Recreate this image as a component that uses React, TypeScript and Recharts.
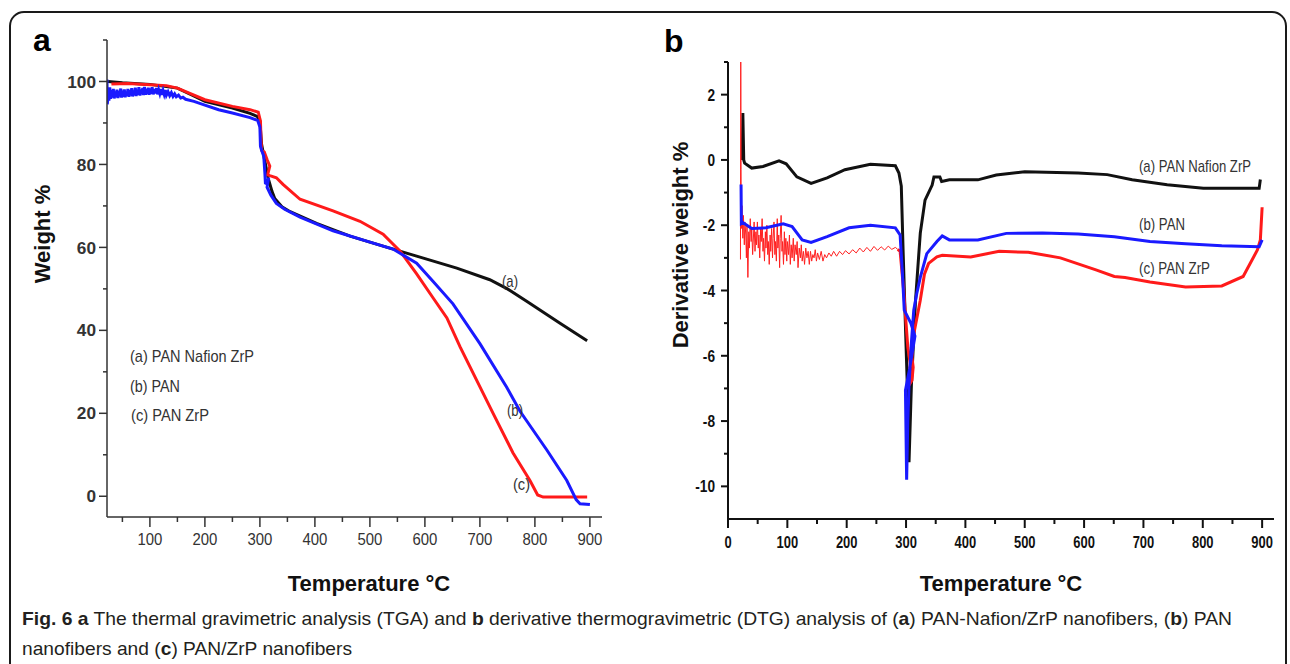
import React from 'react';
import { LineChart, Line, XAxis, YAxis } from 'recharts';

const FONT = "'Liberation Sans', Arial, sans-serif";

// panel a: TGA, [temperature °C, weight %]
const tgaNafionZrP = [
  [24, 100], [50, 99.7], [100, 99.3], [150, 98.4], [175, 96.8], [200, 95.2], [250, 93.6],
  [282, 92.3], [295, 91.6], [300, 90.4], [303, 84.9], [309, 80.8], [315, 76.7], [322, 73.5],
  [327, 71.8], [340, 69.8], [355, 68.6], [403, 65.8], [464, 62.7], [524, 60.3], [585, 57.9],
  [658, 55.0], [718, 52.2], [750, 50.0], [785, 47.0], [845, 41.8], [895, 37.5],
];
const tgaPAN = [
  [22, 100.5], [22.5, 94.5], [24, 96.5], [25.5, 95.4], [27, 98.6], [28.5, 95.8], [30, 97.9],
  [32, 96.1], [33.5, 98.2], [35, 95.9], [37, 97.6], [38.5, 96.2], [40, 98.0], [42, 96.0],
  [43.5, 97.7], [45, 96.4], [47, 98.3], [48.5, 96.1], [50, 97.8], [52, 96.3], [53.5, 98.1],
  [55, 96.2], [57, 97.5], [58.5, 96.5], [60, 98.2], [62, 96.3], [63.5, 97.9], [65, 96.6],
  [67, 98.4], [68.5, 96.4], [70, 97.7], [72, 96.7], [73.5, 98.5], [75, 96.5], [77, 98.0],
  [78.5, 96.8], [80, 98.6], [82, 96.6], [83.5, 98.1], [85, 96.9], [87, 98.4], [88.5, 96.7],
  [90, 98.7], [92, 96.8], [93.5, 98.2], [95, 97.0], [97, 98.5], [98.5, 96.8], [100, 98.3],
  [102, 97.0], [104, 98.6], [106, 96.9], [108, 98.2], [110, 97.1], [112, 98.4], [114, 96.9],
  [116, 98.0], [118, 97.1], [120, 98.2], [122, 96.8], [124, 97.8], [126, 96.9], [128, 97.9],
  [130, 96.7], [133, 97.5], [136, 96.6], [139, 97.3], [142, 96.4], [145, 97.0], [148, 96.3],
  [152, 96.7], [156, 96.0], [160, 96.2], [165, 95.7], [180, 95.2], [200, 94.3], [225, 93.2],
  [250, 92.4], [282, 91.3], [296, 90.6], [300, 89.0], [301, 84.4], [303, 83.5], [307, 82.0],
  [309, 78.0], [310, 75.5], [313, 75.3], [316, 76.8], [313, 74.5], [320, 72.6], [330, 70.6],
  [345, 69.2], [373, 67.3], [433, 64.0], [494, 61.5], [542, 59.6], [585, 56.2], [615, 51.8],
  [651, 46.4], [700, 36.8], [749, 26.2], [773, 20.5], [822, 11.1], [858, 3.8], [875, -0.8],
  [882, -1.8], [900, -2.0],
];
const tgaPANZrP = [
  [30, 99.4], [60, 99.5], [100, 99.2], [130, 99.0], [150, 98.4], [200, 95.6], [250, 94.0],
  [282, 93.2], [297, 92.6], [301, 90.5], [302, 86.0], [303, 83.4], [308, 83.0], [313, 81.2],
  [318, 79.6], [314, 77.5], [318, 77.3], [330, 76.8], [342, 75.2], [373, 71.6], [433, 68.8],
  [482, 66.3], [524, 63.2], [555, 59.1], [585, 53.6], [615, 47.8], [640, 43.0], [664, 36.0],
  [694, 28.0], [724, 20.0], [760, 10.5], [791, 3.8], [805, 0.3], [815, -0.2], [895, -0.2],
];

// panel b: DTG, [temperature °C, derivative weight %]
const dtgNafionZrP = [
  [24, 0], [25, 1.44], [26.5, 0], [28, -0.1], [40, -0.25], [59, -0.2], [86, -0.03], [98, -0.12],
  [116, -0.52], [140, -0.72], [167, -0.55], [197, -0.3], [240, -0.13], [282, -0.18], [288, -0.4],
  [292, -0.8], [295, -2.76], [302, -6.84], [305, -9.26], [309, -6.9], [316, -4.3], [324, -2.24],
  [332, -1.23], [344, -0.77], [347, -0.52], [357, -0.52], [360, -0.66], [373, -0.61], [421, -0.61],
  [452, -0.46], [500, -0.36], [590, -0.4], [639, -0.45], [681, -0.61], [740, -0.76], [801, -0.87],
  [895, -0.87], [897, -0.6],
];
const dtgPAN = [
  [22, -0.75], [22.5, -1.95], [25, -1.92], [40, -2.1], [64, -2.08], [93, -1.96], [108, -2.04],
  [125, -2.45], [140, -2.53], [167, -2.35], [204, -2.08], [240, -2.0], [282, -2.08], [290, -2.3],
  [294, -3.5], [297, -4.6], [308, -5.0], [315, -5.4], [306, -6.4], [299, -7.06], [301, -9.8],
  [303, -8.0], [305, -6.9], [309, -5.6], [313, -4.6], [318, -4.1], [324, -3.6], [335, -2.87],
  [352, -2.5], [361, -2.33], [373, -2.45], [421, -2.45], [469, -2.25], [530, -2.24], [590, -2.27],
  [651, -2.35], [711, -2.5], [771, -2.57], [832, -2.63], [895, -2.66], [900, -2.45],
];
const dtgPANZrPNoisy = [
  [21, -3.05], [21.5, 3.0], [22, -0.3], [22.5, -2.1], [23.5, -1.4], [25, -2.4], [26, -1.7],
  [27.5, -2.6], [28.5, -1.9], [30, -2.3], [31, -3.0], [32, -2.0], [33.5, -3.6], [35, -2.2],
  [36, -2.7], [37.5, -1.8], [39, -2.5], [40, -2.1], [41.5, -2.9], [43, -2.3], [44, -1.9],
  [45.5, -2.8], [47, -2.2], [48, -2.6], [49.5, -1.9], [51, -2.7], [52, -2.3], [53.5, -3.0],
  [55, -2.1], [56, -2.5], [57.5, -1.8], [59, -2.8], [60, -2.4], [61.5, -3.1], [63, -2.2],
  [64, -2.7], [65.5, -2.0], [67, -2.9], [68, -2.5], [69.5, -3.2], [71, -2.3], [72, -2.8],
  [73.5, -2.1], [75, -3.0], [76, -2.4], [77.5, -1.9], [79, -2.9], [80, -2.5], [81.5, -3.1],
  [83, -1.8], [84, -2.7], [85.5, -2.3], [87, -3.3], [88, -2.4], [89.5, -1.7], [91, -2.8],
  [92, -2.5], [93.5, -3.2], [95, -2.2], [96, -2.9], [97.5, -2.4], [99, -3.1], [100, -2.5],
  [102, -2.9], [103.5, -2.3], [105, -3.2], [106.5, -2.6], [108, -3.0], [110, -2.4], [111.5, -3.1],
  [113, -2.6], [115, -2.9], [116.5, -2.5], [118, -3.3], [120, -2.7], [122, -3.0], [123.5, -2.6],
  [125, -3.1], [127, -2.8], [129, -3.2], [131, -2.7], [133, -3.0], [135, -2.8], [137, -3.2],
  [139, -2.8], [141, -3.1], [143, -2.9], [145, -3.0], [147, -2.75], [149, -3.1], [151, -2.85],
  [154, -3.05], [157, -2.8], [160, -3.1], [163, -2.9], [166, -3.0], [170, -2.85], [174, -2.95],
  [178, -2.8], [183, -2.95], [188, -2.8], [193, -2.9], [198, -2.78], [204, -2.88], [210, -2.75],
  [216, -2.85], [222, -2.7], [228, -2.82], [234, -2.68], [240, -2.8], [246, -2.65], [252, -2.77],
  [258, -2.66], [264, -2.76], [270, -2.64], [276, -2.74], [282, -2.68], [286, -2.74],
];
const dtgPANZrP = [
  [286, -2.74], [290, -2.8], [296, -4.0], [300, -5.0], [303, -5.74], [307, -6.24], [305, -6.9],
  [310, -6.75], [312, -6.35], [310, -6.04], [312, -5.43], [324, -4.3], [331, -3.5], [338, -3.17],
  [352, -2.97], [361, -2.92], [409, -2.97], [457, -2.8], [506, -2.83], [560, -3.0], [620, -3.37],
  [651, -3.57], [669, -3.6], [711, -3.74], [771, -3.89], [832, -3.86], [868, -3.57], [892, -2.76],
  [897, -2.45], [900, -1.45],
];

const tgaXMajor = [100, 200, 300, 400, 500, 600, 700, 800, 900];
const tgaXMinor = [50, 150, 250, 350, 450, 550, 650, 750, 850];
const tgaYMajor = [0, 20, 40, 60, 80, 100];
const tgaYMinor = [10, 30, 50, 70, 90, 110];
const dtgXMajor = [0, 100, 200, 300, 400, 500, 600, 700, 800, 900];
const dtgXMinor = [50, 150, 250, 350, 450, 550, 650, 750, 850];
const dtgYMajor = [-10, -8, -6, -4, -2, 0, 2];
const dtgYMinor = [-9, -7, -5, -3, -1, 1, 3];

const pts = (arr: number[][]) => arr.map(([t, v]) => ({ t, v }));
const sorted = (a: number[], b: number[]) => [...a, ...b].sort((p, q) => p - q);

type TickOpt = {
  majors: number[]; len: number; minorLen: number; gap: number;
  size: number; weight: string; color: string; sw: number; digit?: number;
};

// squeeze digits a little, the scanned figure uses a condensed face
const textW = (s: string, d?: number) =>
  d ? { textLength: s.split('').reduce((w, c) => w + (c === '-' ? d * 0.6 : d), 0), lengthAdjust: 'spacingAndGlyphs' } : {};

const leftTick = (o: TickOpt) => (p: any) => {
  const { x, y, payload } = p;
  const major = o.majors.includes(payload.value);
  const s = String(payload.value);
  return (
    <g>
      <line x1={x} x2={x - (major ? o.len : o.minorLen)} y1={y} y2={y} stroke={o.color} strokeWidth={o.sw} />
      {major && (
        <text x={x - o.len - o.gap} y={y} dy="0.36em" textAnchor="end" fontSize={o.size}
          fontWeight={o.weight} fontFamily={FONT} fill={o.color} {...textW(s, o.digit)}>
          {s}
        </text>
      )}
    </g>
  );
};

const bottomTick = (o: TickOpt) => (p: any) => {
  const { x, y, payload } = p;
  const major = o.majors.includes(payload.value);
  const s = String(payload.value);
  return (
    <g>
      <line x1={x} x2={x} y1={y} y2={y + (major ? o.len : o.minorLen)} stroke={o.color} strokeWidth={o.sw} />
      {major && (
        <text x={x} y={y + o.len + o.gap} dy="0.72em" textAnchor="middle" fontSize={o.size}
          fontWeight={o.weight} fontFamily={FONT} fill={o.color} {...textW(s, o.digit)}>
          {s}
        </text>
      )}
    </g>
  );
};

const TgaChart = () => (
  <LineChart width={640} height={620} margin={{ top: 40, right: 38, bottom: 73, left: 57 }}>
    <XAxis type="number" dataKey="t" domain={[22, 922]} allowDataOverflow
      ticks={sorted(tgaXMinor, tgaXMajor)} interval={0}
      height={30} tickSize={0} tickMargin={0} tickLine={false}
      axisLine={{ stroke: '#333', strokeWidth: 1.5 }}
      tick={bottomTick({ majors: tgaXMajor, len: 10, minorLen: 5, gap: 6, size: 17, weight: 'normal', color: '#333', sw: 1.5, digit: 8.3 })} />
    <YAxis type="number" domain={[-5, 110]} allowDataOverflow
      ticks={sorted(tgaYMajor, tgaYMinor)} interval={0}
      width={50} tickSize={0} tickMargin={0} tickLine={false}
      axisLine={{ stroke: '#333', strokeWidth: 1.5 }}
      tick={leftTick({ majors: tgaYMajor, len: 8, minorLen: 4, gap: 3, size: 17, weight: 'bold', color: '#333', sw: 1.5, digit: 9.6 })} />
    <Line data={pts(tgaNafionZrP)} dataKey="v" stroke="#111" strokeWidth={3} dot={false} isAnimationActive={false} />
    <Line data={pts(tgaPANZrP)} dataKey="v" stroke="#ff1a1a" strokeWidth={3} dot={false} isAnimationActive={false} />
    <Line data={pts(tgaPAN)} dataKey="v" stroke="#1a1aff" strokeWidth={3} dot={false} isAnimationActive={false} />
  </LineChart>
);

const DtgChart = () => (
  <LineChart width={650} height={620} margin={{ top: 62, right: 16, bottom: 71, left: 38 }}>
    <XAxis type="number" dataKey="t" domain={[0, 920]} allowDataOverflow
      ticks={sorted(dtgXMinor, dtgXMajor)} interval={0}
      height={30} tickSize={0} tickMargin={0} tickLine={false}
      axisLine={{ stroke: '#111', strokeWidth: 2 }}
      tick={bottomTick({ majors: dtgXMajor, len: 9, minorLen: 5, gap: 8, size: 17, weight: 'bold', color: '#111', sw: 2, digit: 7.2 })} />
    <YAxis type="number" domain={[-11, 3]} allowDataOverflow
      ticks={sorted(dtgYMajor, dtgYMinor)} interval={0}
      width={50} tickSize={0} tickMargin={0} tickLine={false}
      axisLine={{ stroke: '#111', strokeWidth: 2 }}
      tick={leftTick({ majors: dtgYMajor, len: 7, minorLen: 4, gap: 6, size: 17, weight: 'bold', color: '#111', sw: 2, digit: 7.6 })} />
    <Line data={pts(dtgNafionZrP)} dataKey="v" stroke="#111" strokeWidth={3} dot={false} isAnimationActive={false} />
    <Line data={pts(dtgPANZrPNoisy)} dataKey="v" stroke="#ff2020" strokeWidth={1} dot={false} isAnimationActive={false} />
    <Line data={pts(dtgPANZrP)} dataKey="v" stroke="#ff1a1a" strokeWidth={3} dot={false} isAnimationActive={false} />
    <Line data={pts(dtgPAN)} dataKey="v" stroke="#1a1aff" strokeWidth={3} dot={false} isAnimationActive={false} />
  </LineChart>
);

const label = { fontFamily: FONT, fontSize: 17, fill: '#333', lengthAdjust: 'spacingAndGlyphs' };
const title = { fontFamily: FONT, fontSize: 22, fontWeight: 'bold' as const, fill: '#111' };

export default function App() {
  return (
    <div style={{ position: 'absolute', left: 0, top: 0, width: 1290, height: 664, overflow: 'hidden', background: '#fff' }}>
      <div style={{ position: 'absolute', left: 0, top: 0 }}><TgaChart /></div>
      <div style={{ position: 'absolute', left: 640, top: 0 }}><DtgChart /></div>
      <svg width={1290} height={664} style={{ position: 'absolute', left: 0, top: 0, pointerEvents: 'none' }}>
        <rect x={10} y={12} width={1276} height={720} rx={14} fill="none" stroke="#1a1a1a" strokeWidth={2} />
        <text x={33} y={51} fontFamily={FONT} fontSize={32} fontWeight="bold" fill="#000">a</text>
        <text x={664} y={52} fontFamily={FONT} fontSize={32} fontWeight="bold" fill="#000">b</text>

        <text transform="translate(50,234) rotate(-90)" textAnchor="middle" {...title}>Weight %</text>
        <text transform="translate(688,245) rotate(-90)" textAnchor="middle" {...title}>Derivative weight %</text>
        <text x={369} y={591} textAnchor="middle" {...title}>Temperature °C</text>
        <text x={1001} y={591} textAnchor="middle" {...title}>Temperature °C</text>

        <text x={130} y={362} textLength={124} {...label}>(a) PAN Nafion ZrP</text>
        <text x={130} y={392} textLength={50} {...label}>(b) PAN</text>
        <text x={131} y={421} textLength={78} {...label}>(c) PAN ZrP</text>
        <text x={502} y={287} textLength={16} {...label}>(a)</text>
        <text x={507} y={416} textLength={16} {...label}>(b)</text>
        <text x={513} y={490} textLength={17} {...label}>(c)</text>

        <text x={1139} y={172} textLength={112} {...label}>(a) PAN Nafion ZrP</text>
        <text x={1139} y={230} textLength={46} {...label}>(b) PAN</text>
        <text x={1139} y={274} textLength={71} {...label}>(c) PAN ZrP</text>

        <text x={22} y={625} fontFamily={FONT} fontSize={19} fill="#231f20" textLength={1210} lengthAdjust="spacingAndGlyphs">
          <tspan fontWeight="bold">Fig. 6 a</tspan>
          {' The thermal gravimetric analysis (TGA) and '}
          <tspan fontWeight="bold">b</tspan>
          {' derivative thermogravimetric (DTG) analysis of ('}
          <tspan fontWeight="bold">a</tspan>
          {') PAN-Nafion/ZrP nanofibers, ('}
          <tspan fontWeight="bold">b</tspan>
          {') PAN'}
        </text>
        <text x={22} y={655} fontFamily={FONT} fontSize={19} fill="#231f20" textLength={330} lengthAdjust="spacingAndGlyphs">
          {'nanofibers and ('}
          <tspan fontWeight="bold">c</tspan>
          {') PAN/ZrP nanofibers'}
        </text>
      </svg>
    </div>
  );
}
